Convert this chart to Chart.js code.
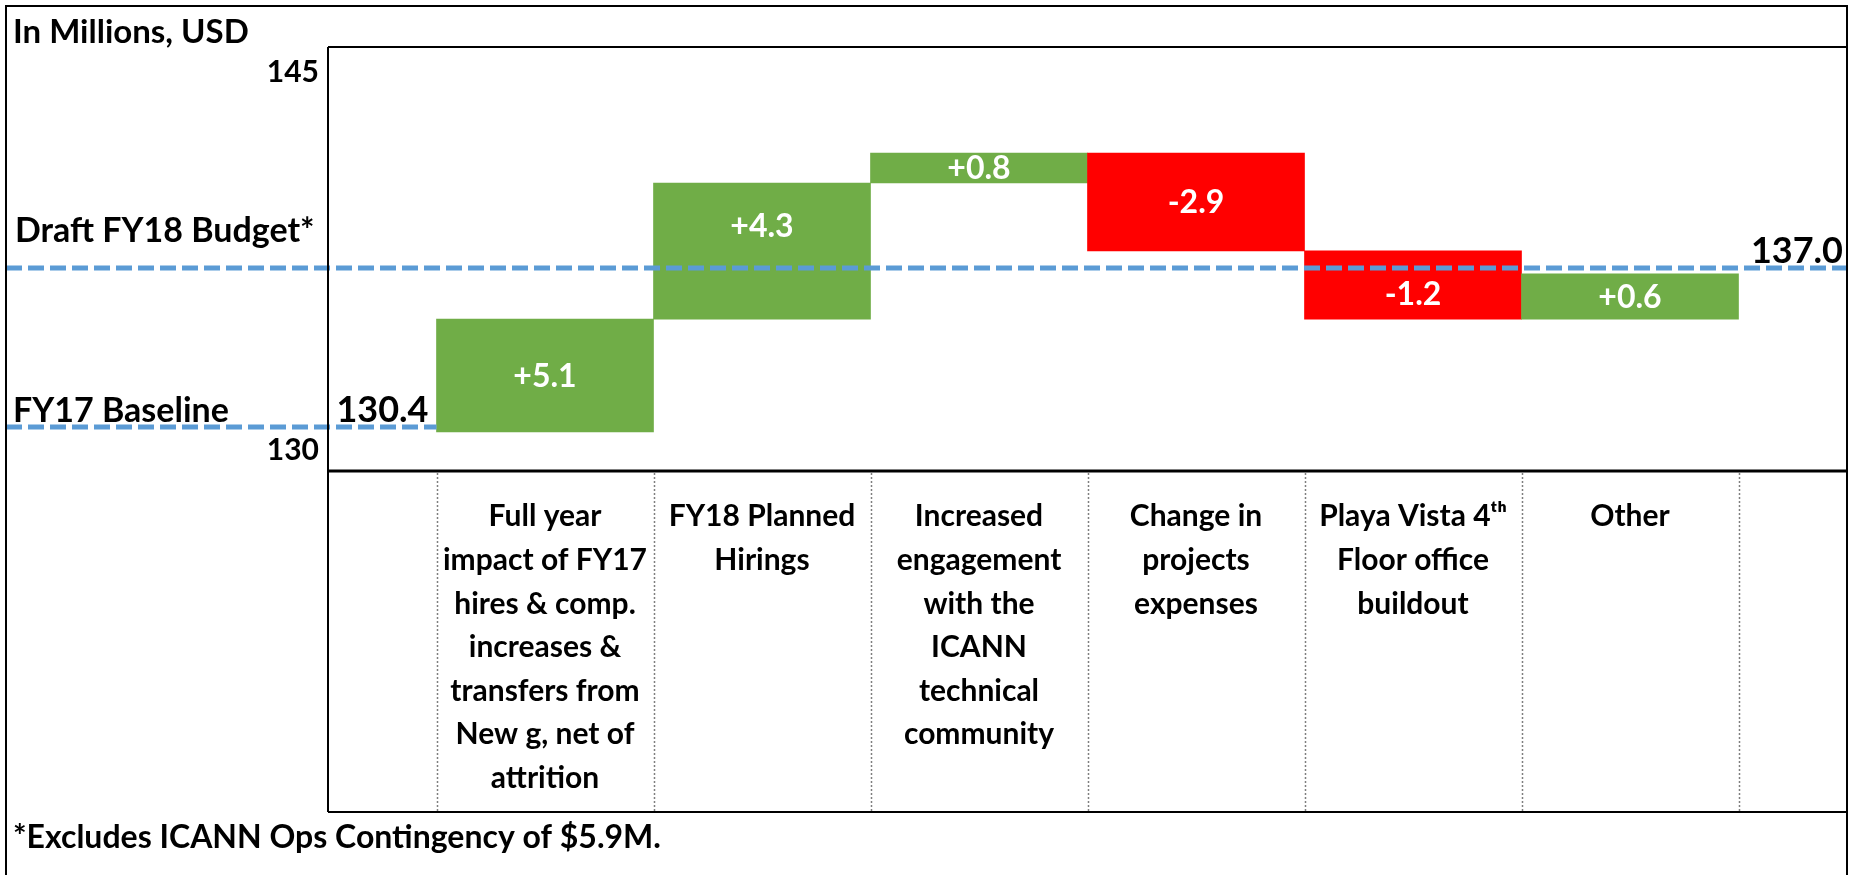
<!DOCTYPE html>
<html>
<head>
<meta charset="utf-8">
<script src="https://cdn.jsdelivr.net/npm/chart.js"></script>
<style>
  html, body { margin: 0; padding: 0; background: #ffffff; overflow: hidden; }
  canvas { display: block; }
</style>
</head>
<body>
<canvas id="myChartBudget" width="1853" height="875"></canvas>
<script>
// categories of the bottom table (first and last cells are empty)
const categories = [
  '',
  ['Full year', 'impact of FY17', 'hires & comp.', 'increases &', 'transfers from', 'New g, net of', 'attrition'],
  ['FY18 Planned', 'Hirings'],
  ['Increased', 'engagement', 'with the', 'ICANN', 'technical', 'community'],
  ['Change in', 'projects', 'expenses'],
  ['Playa Vista 4ᵗʰ', 'Floor office', 'buildout'],
  ['Other'],
  ''
];
// bar bottoms / tops as they sit on the drawn axis (schematic)
const barLow  = [null, 130.75, 135.22, 140.61, 137.92, 135.22, 135.22, null];
const barHigh = [null, 135.22, 140.61, 141.80, 141.80, 137.92, 137.01, null];
const changeLabels = ['', '+5.1', '+4.3', '+0.8', '-2.9', '-1.2', '+0.6', ''];
const isIncrease = [false, true, true, true, false, false, true, false];
const yTicks = [130, 145];
// dashed reference lines, position on axis and printed value
const baselineLevel = 130.94;
const baselineText = '130.4';
const budgetLevel = 137.24;
const budgetText = '137.0';

const green = '#70AD47';
const red = '#FF0000';
const blueDash = '#5B9BD5';
const FONT = 'Lato, "Liberation Sans", sans-serif';

const barData = barLow.map((lo, i) => lo === null ? null : [lo, barHigh[i]]);

const overlay = {
  id: 'overlay',
  afterDatasetsDraw(chart) {
    const c = chart.ctx;
    const y = chart.scales.y;
    const area = chart.chartArea;
    const bars = chart.getDatasetMeta(0).data;
    const yb = y.getPixelForValue(baselineLevel);
    const yd = y.getPixelForValue(budgetLevel);

    // value labels inside bars (kept on the larger side of the budget line)
    c.save();
    c.fillStyle = '#ffffff';
    c.font = 'bold 32px ' + FONT;
    c.textAlign = 'center';
    c.textBaseline = 'middle';
    bars.forEach((b, i) => {
      if (!changeLabels[i]) return;
      let top = Math.min(b.y, b.base);
      let bottom = Math.max(b.y, b.base);
      if (yd > top && yd < bottom) {
        if (yd - top > bottom - yd) bottom = yd; else top = yd;
      }
      c.fillText(changeLabels[i], b.x, (top + bottom) / 2 + 1);
    });
    c.restore();

    // dashed lines
    c.save();
    c.strokeStyle = blueDash;
    c.lineWidth = 5;
    c.setLineDash([16, 6]);
    const firstBar = bars[1];
    c.beginPath();
    c.moveTo(6, yb);
    c.lineTo(firstBar.x - firstBar.width / 2, yb);
    c.stroke();
    c.beginPath();
    c.moveTo(6, yd);
    c.lineTo(area.right, yd);
    c.stroke();
    c.restore();

    // frame lines
    const tableBottom = 812;
    c.save();
    c.strokeStyle = '#000000';
    c.lineWidth = 2;
    c.strokeRect(6, 6, area.right - 6, 875);
    c.beginPath();
    c.moveTo(area.left, area.top); c.lineTo(area.right, area.top);
    c.moveTo(area.left, area.top); c.lineTo(area.left, tableBottom);
    c.moveTo(area.left, tableBottom); c.lineTo(area.right, tableBottom);
    c.stroke();
    c.lineWidth = 3;
    c.beginPath();
    c.moveTo(area.left, area.bottom); c.lineTo(area.right, area.bottom);
    c.stroke();
    // dotted dividers of the table
    const x = chart.scales.x;
    c.strokeStyle = '#7f7f7f';
    c.lineWidth = 1.5;
    c.setLineDash([2, 2]);
    for (let i = 0; i < categories.length - 1; i++) {
      const px = Math.round((x.getPixelForValue(i) + x.getPixelForValue(i + 1)) / 2) + 0.5;
      c.beginPath();
      c.moveTo(px, area.bottom + 2);
      c.lineTo(px, tableBottom - 1);
      c.stroke();
    }
    c.restore();

    // texts
    c.save();
    c.fillStyle = '#000000';
    c.textBaseline = 'alphabetic';
    c.textAlign = 'left';
    c.font = 'bold 33px ' + FONT;
    c.fillText('In Millions, USD', 13, 43);
    c.font = 'bold 34px ' + FONT;
    c.fillText('Draft FY18 Budget*', 15, yd - 26);
    c.fillText('FY17 Baseline', 13, yb - 5);
    c.font = 'bold 32px ' + FONT;
    c.fillText('*Excludes ICANN Ops Contingency of $5.9M.', 13, 848);
    c.font = 'bold 36px ' + FONT;
    c.textAlign = 'right';
    c.fillText(baselineText, firstBar.x - firstBar.width / 2 - 8, yb - 5);
    c.fillText(budgetText, area.right - 4, yd - 5);
    c.restore();
  }
};

const ctx = document.getElementById('myChartBudget');

new Chart(ctx, {
  type: 'bar',
  data: {
    labels: categories,
    datasets: [
      {
        label: 'Change',
        data: barData,
        backgroundColor: isIncrease.map(v => v ? green : red),
        borderWidth: 0,
        barPercentage: 1,
        categoryPercentage: 1
      }
    ]
  },
  options: {
    responsive: false,
    animation: false,
    events: [],
    layout: { padding: { top: 47, right: 6, left: 0, bottom: 0 } },
    plugins: {
      legend: { display: false },
      title: { display: false },
      tooltip: { enabled: false }
    },
    scales: {
      x: {
        offset: false,
        grid: { display: false, drawTicks: false },
        border: { display: false },
        ticks: {
          color: '#000000',
          autoSkip: false,
          maxRotation: 0,
          padding: 24,
          font: { family: FONT, size: 30, weight: 'bold', lineHeight: '43.6px' }
        },
        afterFit(scale) {
          scale.height = 404;
          scale.paddingLeft = 0;
          scale.paddingRight = 0;
        }
      },
      y: {
        min: 129.2,
        max: 146,
        grid: { display: false, drawTicks: false },
        border: { display: false },
        afterBuildTicks(scale) { scale.ticks = yTicks.map(v => ({ value: v })); },
        ticks: {
          color: '#000000',
          padding: 9,
          font: { family: FONT, size: 30, weight: 'bold' }
        },
        afterFit(scale) {
          scale.width = 328;
          scale.paddingTop = 0;
          scale.paddingBottom = 0;
        }
      }
    }
  },
  plugins: [overlay]
});
</script>
</body>
</html>
